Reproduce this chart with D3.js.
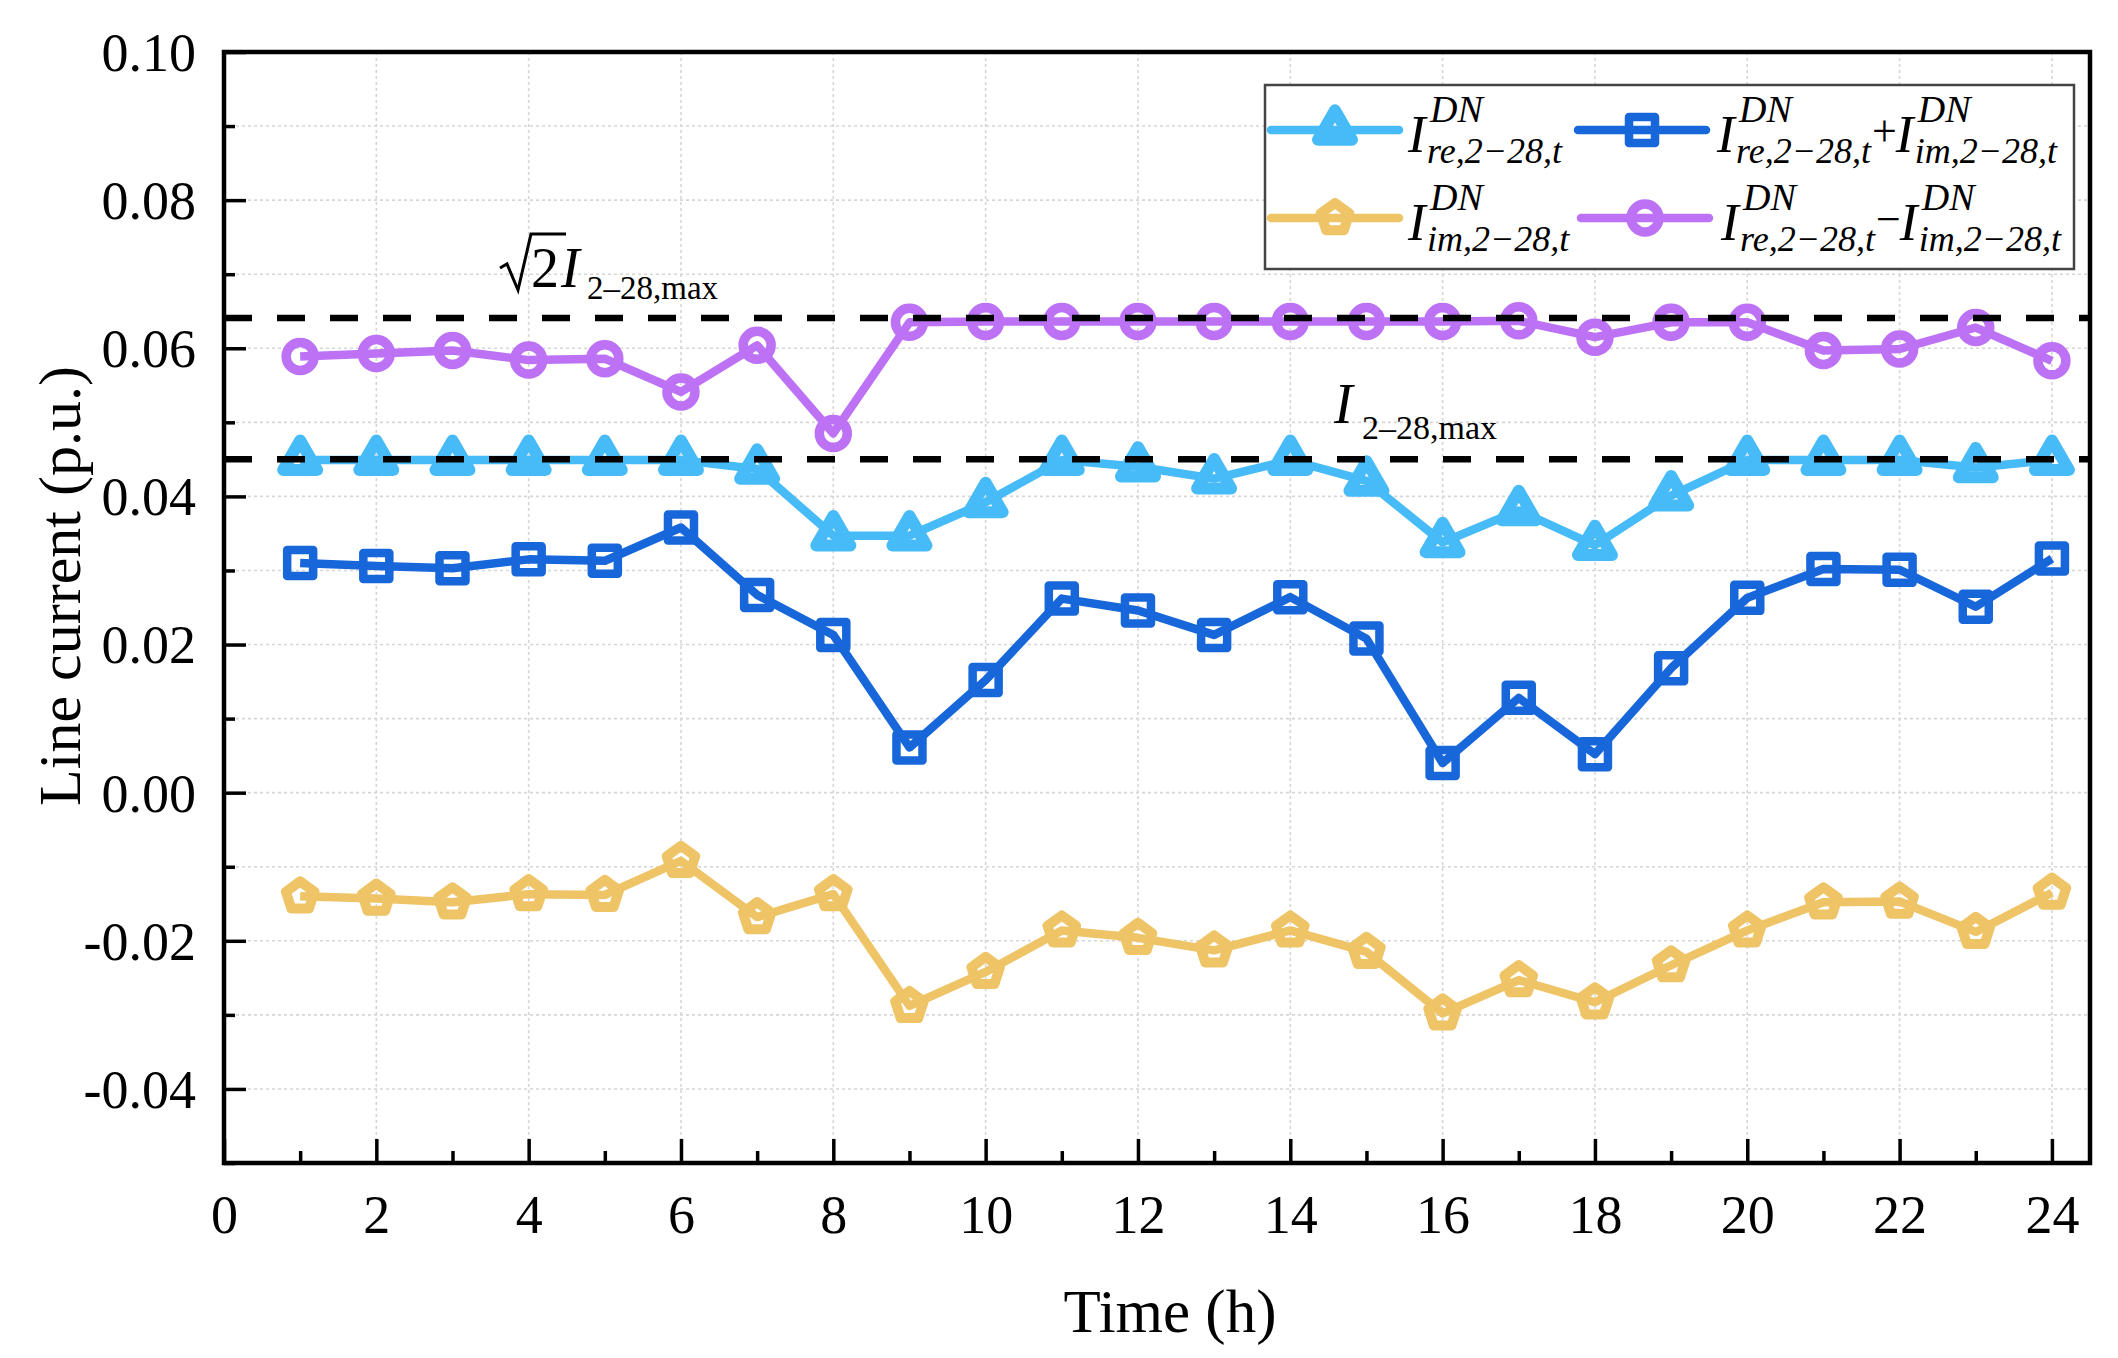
<!DOCTYPE html>
<html>
<head>
<meta charset="utf-8">
<script src="https://cdn.jsdelivr.net/npm/d3@7"></script>
<style>
  body { margin: 0; background: #fff; }
  svg { display: block; font-family: "Liberation Serif", "Times New Roman", serif; }
  .it { font-style: italic; }
</style>
</head>
<body>
<script>
// ---- data ----
var hours = [1,2,3,4,5,6,7,8,9,10,11,12,13,14,15,16,17,18,19,20,21,22,23,24];

var iRe   = [0.0449,0.0449,0.0449,0.0449,0.0449,0.0449,0.0437,0.0347,0.0347,0.0392,0.0449,0.0440,
             0.0424,0.0449,0.0421,0.0338,0.0381,0.0334,0.0401,0.0449,0.0449,0.0449,0.0439,0.0449];
var iSum  = [0.0310,0.0306,0.0303,0.0315,0.0313,0.0358,0.0267,0.0213,0.0061,0.0152,0.0262,0.0246,
             0.0213,0.0264,0.0208,0.0040,0.0128,0.0052,0.0168,0.0263,0.0302,0.0301,0.0251,0.0316];
var iIm   = [-0.0140,-0.0143,-0.0148,-0.0137,-0.0138,-0.0092,-0.0168,-0.0137,-0.0288,-0.0242,-0.0186,-0.0196,
             -0.0213,-0.0186,-0.0215,-0.0298,-0.0253,-0.0283,-0.0233,-0.0186,-0.0148,-0.0147,-0.0188,-0.0135];
var iDiff = [0.0589,0.0593,0.0597,0.0584,0.0586,0.0541,0.0604,0.0485,0.0635,0.0636,0.0636,0.0636,
             0.0636,0.0636,0.0636,0.0636,0.0637,0.0615,0.0635,0.0635,0.0597,0.0599,0.0628,0.0583];

var limitMax  = 0.0450;   // I_2-28,max
var limitSqrt = 0.0641;   // sqrt(2) I_2-28,max

var xTicks = [0,2,4,6,8,10,12,14,16,18,20,22,24];
var xMinor = [1,3,5,7,9,11,13,15,17,19,21,23];
var yTicks = [-0.04,-0.02,0.00,0.02,0.04,0.06,0.08,0.10];
var yTickLabels = ['-0.04','-0.02','0.00','0.02','0.04','0.06','0.08','0.10'];
var yMinor = [-0.05,-0.03,-0.01,0.01,0.03,0.05,0.07,0.09];
var yGrid  = [-0.04,-0.03,-0.02,-0.01,0.00,0.01,0.02,0.03,0.04,0.05,0.06,0.07,0.08,0.09];

// ---- layout ----
var W = 2118, H = 1358;
var L = 224, R = 2090, T = 52, B = 1163;

var x = d3.scaleLinear().domain([0, 24.5]).range([L, R]);
var y = d3.scaleLinear().domain([-0.05, 0.10]).range([B, T]);

var svg = d3.select('body').append('svg').attr('width', W).attr('height', H);
svg.append('rect').attr('width', W).attr('height', H).attr('fill', '#fff');

// pentagon symbol (d3 has none)
var symbolPentagon = {
  draw: function(ctx, size){
    var r = Math.sqrt(size) * 0.62;
    for(var i=0;i<5;i++){
      var a = -Math.PI/2 + i*2*Math.PI/5;
      if(i==0) ctx.moveTo(r*Math.cos(a), r*Math.sin(a));
      else ctx.lineTo(r*Math.cos(a), r*Math.sin(a));
    }
    ctx.closePath();
  }
};

var series = [
  { values: iRe,   color: '#47BBF7', symbol: d3.symbolTriangle, size: 500, sw: 12 },
  { values: iSum,  color: '#1767DB', symbol: d3.symbolSquare,   size: 676, sw: 8.5 },
  { values: iIm,   color: '#EEC466', symbol: symbolPentagon,    size: 585, sw: 10 },
  { values: iDiff, color: '#BD72F6', symbol: d3.symbolCircle,   size: 615, sw: 9.5 }
];

// ---- grid ----
var grid = svg.append('g').attr('stroke', '#d6d6d6').attr('stroke-width', 1.6)
  .attr('stroke-dasharray', '3,3');
grid.selectAll('.gy').data(yGrid).enter().append('line')
  .attr('x1', L).attr('x2', R)
  .attr('y1', function(d){ return y(d); }).attr('y2', function(d){ return y(d); });
grid.selectAll('.gx').data(xTicks.slice(1)).enter().append('line')
  .attr('y1', T).attr('y2', B)
  .attr('x1', function(d){ return x(d); }).attr('x2', function(d){ return x(d); });

// ---- series ----
var line = d3.line()
  .x(function(d,i){ return x(hours[i]); })
  .y(function(d){ return y(d); });

series.forEach(function(s){
  var g = svg.append('g');
  g.append('path').datum(s.values)
    .attr('d', line)
    .attr('fill', 'none')
    .attr('stroke', s.color)
    .attr('stroke-width', 8.5)
    .attr('stroke-linejoin', 'round');
  g.selectAll('.m').data(s.values).enter().append('path')
    .attr('transform', function(d,i){ return 'translate(' + x(hours[i]) + ',' + y(d) + ')'; })
    .attr('d', d3.symbol().type(s.symbol).size(s.size))
    .attr('fill', 'none')
    .attr('stroke', s.color)
    .attr('stroke-width', s.sw)
    .attr('stroke-linejoin', 'round');
});

// ---- limit lines ----
svg.selectAll('.limit').data([limitMax, limitSqrt]).enter().append('line')
  .attr('x1', L).attr('x2', R)
  .attr('y1', function(d){ return y(d); }).attr('y2', function(d){ return y(d); })
  .attr('stroke', '#000').attr('stroke-width', 6.5)
  .attr('stroke-dasharray', '28,25');

// ---- axes ----
var xAxis = svg.append('g').attr('transform', 'translate(0,' + B + ')')
  .call(d3.axisBottom(x).tickValues(xTicks).tickSize(-24).tickPadding(32).tickFormat(d3.format('d')));
var xAxisMinor = svg.append('g').attr('transform', 'translate(0,' + B + ')')
  .call(d3.axisBottom(x).tickValues(xMinor).tickSize(-12).tickFormat(''));
var yAxis = svg.append('g').attr('transform', 'translate(' + L + ',0)')
  .call(d3.axisLeft(y).tickValues(yTicks).tickSize(-22).tickPadding(28)
    .tickFormat(function(d,i){ return yTickLabels[i]; }));
var yAxisMinor = svg.append('g').attr('transform', 'translate(' + L + ',0)')
  .call(d3.axisLeft(y).tickValues(yMinor).tickSize(-11).tickFormat(''));

[xAxis, xAxisMinor, yAxis, yAxisMinor].forEach(function(a){
  a.select('.domain').remove();
  a.selectAll('line').attr('stroke', '#000').attr('stroke-width', 3.5);
  a.selectAll('text').attr('fill', '#000')
    .style('font-family', '"Liberation Serif", "Times New Roman", serif')
    .style('font-size', '54px');
});
yAxis.selectAll('text').attr('dy', '0.34em');

// frame
svg.append('rect').attr('x', L).attr('y', T).attr('width', R - L).attr('height', B - T)
  .attr('fill', 'none').attr('stroke', '#000').attr('stroke-width', 4.5);

// axis titles
svg.append('text').attr('x', 1170).attr('y', 1332).attr('text-anchor', 'middle')
  .style('font-size', '61px').text('Time (h)');
svg.append('text').attr('transform', 'translate(80,586) rotate(-90)').attr('text-anchor', 'middle')
  .style('font-size', '60px').text('Line current (p.u.)');

// ---- annotations ----
var ann = svg.append('g');
ann.append('path').attr('d', 'M500,268 L507,264 L518,290 L531,234 L566,234')
  .attr('fill', 'none').attr('stroke', '#000').attr('stroke-width', 3).attr('stroke-linejoin', 'miter');
ann.append('text').attr('x', 531).attr('y', 287).style('font-size', '56px').text('2');
ann.append('text').attr('x', 561).attr('y', 287).attr('class', 'it').style('font-size', '56px').text('I');
ann.append('text').attr('x', 587).attr('y', 299).style('font-size', '33px').text('2\u201328,max');

ann.append('text').attr('x', 1334).attr('y', 423).attr('class', 'it').style('font-size', '56px').text('I');
ann.append('text').attr('x', 1362).attr('y', 439).style('font-size', '34px').text('2\u201328,max');

// ---- legend ----
var leg = svg.append('g');
leg.append('rect').attr('x', 1265).attr('y', 85).attr('width', 809).attr('height', 184)
  .attr('fill', '#fff').attr('stroke', '#444').attr('stroke-width', 2.5);

function term(g, x0, base, sub){
  g.append('text').attr('x', x0).attr('y', base).attr('class', 'it')
    .style('font-size', '53px').text('I');
  var x1 = x0 + 19;
  var sp = g.append('text').attr('x', x1 + 3).attr('y', base - 30).attr('class', 'it')
    .style('font-size', '38px').text('DN');
  var sb = g.append('text').attr('x', x1).attr('y', base + 11).attr('class', 'it')
    .style('font-size', '36px').text(sub);
  return x1 + Math.max(sp.node().getComputedTextLength() + 3, sb.node().getComputedTextLength());
}

function op(g, x0, base, ch){
  var t = g.append('text').attr('x', x0).attr('y', base).style('font-size', '44px').text(ch);
  return x0 + t.node().getComputedTextLength();
}

var legendRows = [
  { s: series[0], lx: 1271, ly: 130, tx: 1408, parts: [['re,2\u221228,t']] },
  { s: series[1], lx: 1578, ly: 130, tx: 1717, parts: [['re,2\u221228,t'], '+', ['im,2\u221228,t']] },
  { s: series[2], lx: 1271, ly: 218, tx: 1408, parts: [['im,2\u221228,t']] },
  { s: series[3], lx: 1581, ly: 218, tx: 1721, parts: [['re,2\u221228,t'], '\u2212', ['im,2\u221228,t']] }
];

legendRows.forEach(function(e){
  leg.append('line').attr('x1', e.lx).attr('x2', e.lx + 128)
    .attr('y1', e.ly).attr('y2', e.ly)
    .attr('stroke', e.s.color).attr('stroke-width', 8.5).attr('stroke-linecap', 'round');
  leg.append('path').attr('transform', 'translate(' + (e.lx + 64) + ',' + e.ly + ')')
    .attr('d', d3.symbol().type(e.s.symbol).size(e.s.size))
    .attr('fill', 'none').attr('stroke', e.s.color).attr('stroke-width', e.s.sw)
    .attr('stroke-linejoin', 'round');
  var cx = e.tx, base = e.ly + 22;
  e.parts.forEach(function(p){
    if(typeof p == 'string') cx = op(leg, cx + 1, base - 6, p) - 1;
    else cx = term(leg, cx, base, p[0]);
  });
});
</script>
</body>
</html>
